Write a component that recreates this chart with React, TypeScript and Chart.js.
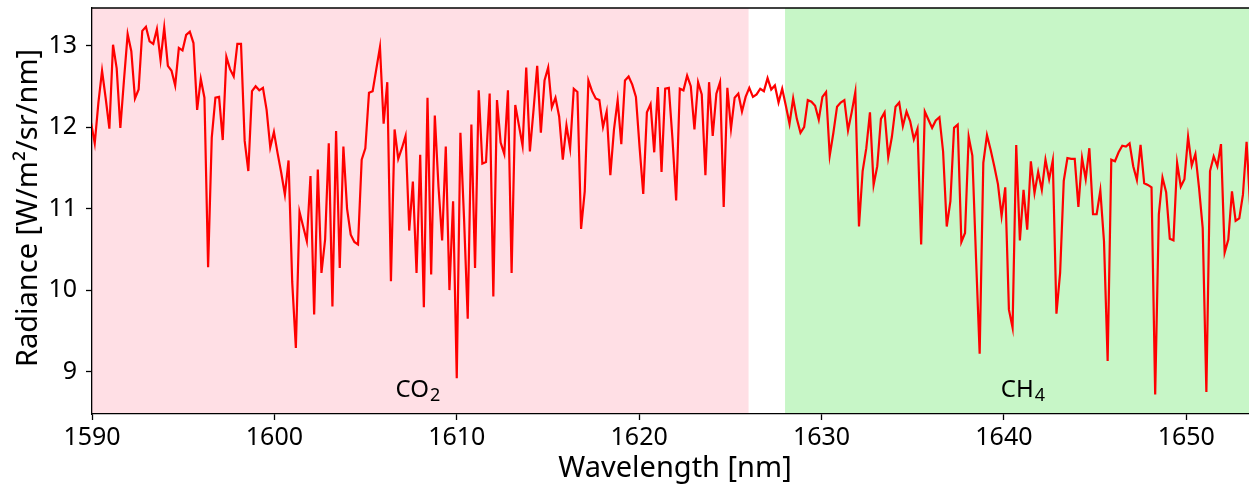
import React, { useEffect, useRef } from 'react';
import { Chart, registerables } from 'chart.js';

Chart.register(...registerables);

// Wavelength grid of the spectrum (nm)
const WL_START = 1589.95;
const WL_STEP = 0.2005;

// Radiance [W/m2/sr/nm], one value per grid point
const radiance: number[] = [
  12.05, 11.8, 12.3, 12.69, 12.35, 11.98, 13.01, 12.72, 11.99, 12.58,
  13.14, 12.93, 12.35, 12.46, 13.18, 13.23, 13.05, 13.02, 13.2, 12.82,
  13.22, 12.75, 12.69, 12.51, 12.97, 12.94, 13.13, 13.17, 13.03, 12.21,
  12.59, 12.36, 10.28, 11.87, 12.36, 12.37, 11.84, 12.86, 12.71, 12.62,
  13.02, 13.02, 11.83, 11.46, 12.44, 12.5, 12.45, 12.48, 12.21, 11.75,
  11.94, 11.68, 11.44, 11.17, 11.59, 10.1, 9.29, 10.96, 10.78, 10.6,
  11.4, 9.7, 11.48, 10.21, 10.62, 11.8, 9.8, 11.95, 10.27, 11.76,
  11.0, 10.68, 10.59, 10.56, 11.6, 11.74, 12.42, 12.44, 12.71, 12.98,
  12.04, 12.55, 10.11, 11.97, 11.61, 11.74, 11.89, 10.73, 11.33, 10.21,
  11.66, 9.79, 12.36, 10.19, 12.14, 11.27, 10.61, 11.76, 10.0, 11.09,
  8.92, 11.93, 10.87, 9.65, 12.03, 10.27, 12.45, 11.55, 11.57, 12.41,
  9.92, 12.33, 11.81, 11.67, 12.45, 10.21, 12.27, 12.02, 11.77, 12.73,
  11.7, 12.21, 12.75, 11.93, 12.57, 12.73, 12.24, 12.36, 12.13, 11.6,
  12.02, 11.74, 12.47, 12.43, 10.75, 11.21, 12.57, 12.44, 12.35, 12.33,
  12.0, 12.19, 11.41, 11.97, 12.33, 11.79, 12.57, 12.62, 12.52, 12.37,
  11.75, 11.18, 12.18, 12.28, 11.69, 12.49, 11.45, 12.47, 12.48, 11.85,
  11.1, 12.47, 12.45, 12.63, 12.5, 11.97, 12.55, 12.4, 11.41, 12.55,
  11.89, 12.41, 12.55, 11.02, 12.48, 11.98, 12.36, 12.41, 12.19, 12.37,
  12.48, 12.37, 12.4, 12.47, 12.44, 12.6, 12.46, 12.51, 12.3, 12.47,
  12.26, 12.04, 12.35, 12.1, 11.93, 12.0, 12.33, 12.31, 12.26, 12.09,
  12.37, 12.43, 11.65, 11.93, 12.25, 12.3, 12.33, 11.96, 12.18, 12.43,
  10.78, 11.46, 11.74, 12.18, 11.29, 11.52, 12.1, 12.18, 11.63, 11.88,
  12.25, 12.3, 12.01, 12.19, 12.07, 11.85, 11.98, 10.56, 12.19, 12.09,
  11.99, 12.08, 12.12, 11.7, 10.78, 11.09, 11.99, 12.03, 10.59, 10.7,
  11.88, 11.65, 10.4, 9.22, 11.56, 11.9, 11.72, 11.52, 11.3, 10.91,
  11.26, 9.76, 9.54, 11.78, 10.61, 11.23, 10.74, 11.58, 11.19, 11.45,
  11.23, 11.6, 11.36, 11.59, 9.71, 10.21, 11.34, 11.62, 11.61, 11.61,
  11.02, 11.62, 11.36, 11.74, 10.93, 10.93, 11.22, 10.6, 9.13, 11.6,
  11.58, 11.69, 11.77, 11.76, 11.8, 11.52, 11.35, 11.78, 11.31, 11.29,
  11.26, 8.72, 10.93, 11.38, 11.2, 10.63, 10.61, 11.56, 11.27, 11.36,
  11.88, 11.53, 11.67, 11.25, 10.76, 8.75, 11.46, 11.64, 11.52, 11.79,
  10.46, 10.62, 11.21, 10.85, 10.88, 11.17, 11.82, 11.0,
];

// Axis range and ticks
const X_MIN = 1590;
const X_MAX = 1653.44;
const Y_MIN = 8.48;
const Y_MAX = 13.46;
const xTickValues = [1590, 1600, 1610, 1620, 1630, 1640, 1650];
const yTickValues = [9, 10, 11, 12, 13];

// Absorption bands (nm)
const bandNames = ['CO', 'CH'];
const bandSubscripts = ['2', '4'];
const bandStart = [1585, 1628];
const bandEnd = [1626, 1660];
const bandLabelX = [1607.87, 1641.04];
const bandLabelY = [8.69, 8.69];

const xTitle = 'Wavelength [nm]';
const yTitle = 'Radiance [W/m²/sr/nm]';

const FONT = '"Noto Sans", "DejaVu Sans", sans-serif';
const bandColors = ['rgba(255,192,203,0.5)', 'rgba(144,238,144,0.5)'];

export default function App() {
  const canvasRef = useRef<HTMLCanvasElement | null>(null);

  useEffect(() => {
    const canvas = canvasRef.current;
    if (!canvas) return;

    const points = radiance.map((v, i) => ({ x: WL_START + WL_STEP * i, y: v }));

    const bandsPlugin = {
      id: 'bands',
      beforeDraw(chart: any) {
        const { ctx, chartArea, scales } = chart;
        ctx.save();
        ctx.fillStyle = '#ffffff';
        ctx.fillRect(0, 0, chart.width, chart.height);
        ctx.beginPath();
        ctx.rect(chartArea.left, chartArea.top, chartArea.right - chartArea.left, chartArea.bottom - chartArea.top);
        ctx.clip();
        bandStart.forEach((s, i) => {
          const x0 = scales.x.getPixelForValue(s);
          const x1 = scales.x.getPixelForValue(bandEnd[i]);
          ctx.fillStyle = bandColors[i];
          ctx.fillRect(x0, chartArea.top, x1 - x0, chartArea.bottom - chartArea.top);
        });
        ctx.restore();
      },
      afterDraw(chart: any) {
        const { ctx, chartArea, scales } = chart;
        ctx.save();
        // top spine
        ctx.strokeStyle = '#000';
        ctx.lineWidth = 1.3;
        ctx.beginPath();
        ctx.moveTo(chartArea.left, chartArea.top);
        ctx.lineTo(chartArea.right, chartArea.top);
        ctx.stroke();

        ctx.fillStyle = '#000';
        // band labels with subscripts
        bandNames.forEach((name, i) => {
          const size = 24;
          const subSize = 18;
          const cx = scales.x.getPixelForValue(bandLabelX[i]);
          const by = scales.y.getPixelForValue(bandLabelY[i]);
          ctx.font = `${size}px ${FONT}`;
          const w1 = ctx.measureText(name).width;
          ctx.font = `${subSize}px ${FONT}`;
          const w2 = ctx.measureText(bandSubscripts[i]).width;
          const start = cx - (w1 + w2 + 1) / 2;
          ctx.textAlign = 'left';
          ctx.textBaseline = 'alphabetic';
          ctx.font = `${size}px ${FONT}`;
          ctx.fillText(name, start, by);
          ctx.font = `${subSize}px ${FONT}`;
          ctx.fillText(bandSubscripts[i], start + w1 + 1, by + 4);
        });

        // axis titles
        ctx.font = `29px ${FONT}`;
        ctx.textAlign = 'center';
        ctx.textBaseline = 'alphabetic';
        ctx.fillText(xTitle, 675, 477);
        ctx.translate(37, 208);
        ctx.rotate(-Math.PI / 2);
        ctx.fillText(yTitle, 0, 0);
        ctx.restore();
      },
    };

    const chart = new Chart(canvas, {
      type: 'line',
      data: {
        datasets: [
          {
            data: points,
            borderColor: '#ff0000',
            borderWidth: 2.2,
            pointRadius: 0,
            tension: 0,
            fill: false,
          },
        ],
      },
      options: {
        animation: false,
        responsive: false,
        devicePixelRatio: 1,
        parsing: false,
        normalized: true,
        layout: { padding: { top: 8, left: 0, right: 0, bottom: 0 } },
        plugins: {
          legend: { display: false },
          tooltip: { enabled: false },
        },
        scales: {
          x: {
            type: 'linear',
            min: X_MIN,
            max: X_MAX,
            afterBuildTicks: (axis: any) => {
              axis.ticks = xTickValues.map((v) => ({ value: v }));
            },
            afterFit: (axis: any) => {
              axis.height = 70;
              axis.paddingLeft = 0;
              axis.paddingRight = 0;
            },
            ticks: {
              color: '#000',
              font: { family: FONT, size: 25 },
              padding: 3,
              maxRotation: 0,
              autoSkip: false,
              callback: (v: any) => String(v),
            },
            grid: {
              drawOnChartArea: false,
              drawTicks: true,
              tickLength: 6,
              tickColor: '#000',
              tickWidth: 1.3,
            },
            border: { display: true, color: '#000', width: 1.3 },
          },
          y: {
            type: 'linear',
            min: Y_MIN,
            max: Y_MAX,
            afterBuildTicks: (axis: any) => {
              axis.ticks = yTickValues.map((v) => ({ value: v }));
            },
            afterFit: (axis: any) => {
              axis.width = 92;
              axis.paddingTop = 0;
              axis.paddingBottom = 0;
            },
            ticks: {
              color: '#000',
              font: { family: FONT, size: 25 },
              padding: 9,
              autoSkip: false,
              callback: (v: any) => String(v),
            },
            grid: {
              drawOnChartArea: false,
              drawTicks: true,
              tickLength: 6,
              tickColor: '#000',
              tickWidth: 1.3,
            },
            border: { display: true, color: '#000', width: 1.3 },
          },
        },
      },
      plugins: [bandsPlugin],
    });

    return () => {
      chart.destroy();
    };
  }, []);

  return (
    <div style={{ position: 'absolute', left: 0, top: 0, width: 1249, height: 484 }}>
      <canvas ref={canvasRef} width={1249} height={484} style={{ display: 'block' }} />
    </div>
  );
}
